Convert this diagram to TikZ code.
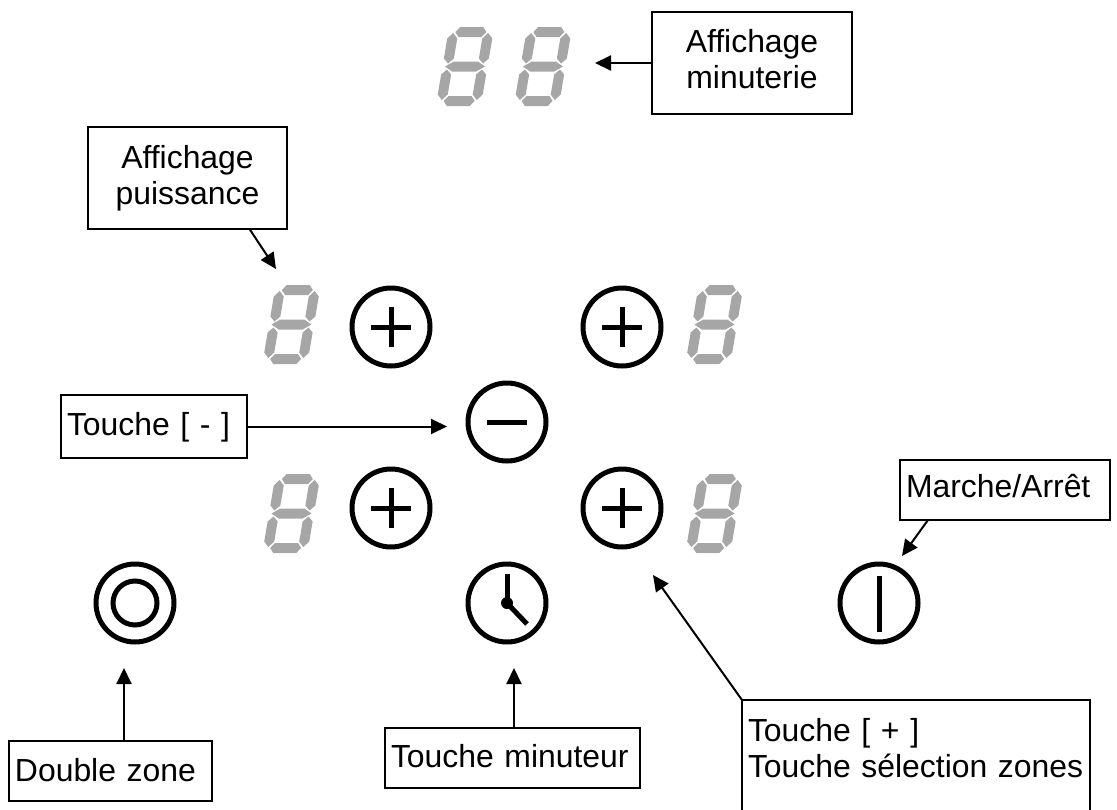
\documentclass[tikz,border=0pt]{standalone}
\usepackage{fontspec}
\setmainfont{Liberation Sans}
\usetikzlibrary{arrows.meta}
\definecolor{seggray}{HTML}{A6A6A6}
% horizontal segment: centre height, half length of the flat side, half length to the tip
\newcommand{\hseg}[3]{\fill[seggray] (-#3,#1) -- (-#2,#1-5) -- (#2,#1-5) -- (#3,#1) -- (#2,#1+5) -- (-#2,#1+5) -- cycle;}
% vertical segment: x, top tip, top shoulder, bottom shoulder, bottom tip
\newcommand{\vseg}[5]{\fill[seggray] (#1,#2) -- (#1+5,#3) -- (#1+5,#4) -- (#1,#5) -- (#1-5,#4) -- (#1-5,#3) -- cycle;}
\tikzset{
  x=1pt,y=-1pt,
  sevenseg/.pic={
    \begin{scope}[xslant=0.17]
      \hseg{-34.5}{11.5}{15.5}\hseg{0}{12}{20}\hseg{34.5}{11.5}{15.5}
      \vseg{-17.5}{-33.5}{-28}{-8}{-3}\vseg{17.5}{-33.5}{-28}{-8}{-3}
      \vseg{-17.5}{3}{8}{28}{33.5}\vseg{17.5}{3}{8}{28}{33.5}
    \end{scope}
  },
  labelbox/.style={draw,line width=2pt,anchor=north west,inner xsep=6pt,inner ysep=0pt,outer sep=0pt,
    font=\fontsize{31.9}{36.5}\selectfont},
  keyring/.style={circle,draw,line width=5pt,minimum size=78pt,inner sep=0pt,outer sep=0pt},
  keymark/.style={line width=5pt},
  pointer/.style={line width=2pt,-{Triangle[length=16pt,width=15pt]}}
}
\begin{document}
\begin{tikzpicture}
\useasboundingbox (0,0) rectangle (1117,809);
% displays
\pic at (465,66.5) {sevenseg};
\pic at (543,66.5) {sevenseg};
\pic at (291.5,324.5) {sevenseg};
\pic at (714.5,324.5) {sevenseg};
\pic at (291.5,513.5) {sevenseg};
\pic at (714.5,513.5) {sevenseg};
% keys
\node[keyring] (ptl) at (391,327) {};
\node[keyring] (ptr) at (622,327) {};
\node[keyring] (pbl) at (391,508) {};
\node[keyring] (pbr) at (622,508) {};
\foreach \k in {ptl,ptr,pbl,pbr}{
  \draw[keymark] ([xshift=-20pt]\k.center) -- ([xshift=20pt]\k.center);
  \draw[keymark] ([yshift=-20pt]\k.center) -- ([yshift=20pt]\k.center);
}
\node[keyring] (minus) at (507,422) {};
\draw[keymark] ([xshift=-20pt]minus.center) -- ([xshift=20pt]minus.center);
\node[keyring] (clock) at (507,603) {};
\draw[keymark] (clock.center) -- ++(0,-29);
\draw[keymark] (clock.center) -- ++(20,21);
\fill (clock.center) circle (6pt);
\node[keyring] (dzone) at (135,603) {};
\node[circle,draw,line width=5pt,minimum size=44pt,inner sep=0pt,outer sep=0pt] (dzonein) at (135,603) {};
\node[keyring] (power) at (879,603) {};
\draw[keymark] ([yshift=-29pt]power.center) -- ([yshift=27pt]power.center);
% labels
\node[labelbox,minimum width=200pt,text width=188pt,align=center,text height=40pt,text depth=62pt] (bmin) at (652,12) {Affichage\\minuterie};
\node[labelbox,minimum width=199pt,text width=187pt,align=center,text height=41pt,text depth=61pt] (bpui) at (88,127) {Affichage\\puissance};
\node[labelbox,minimum width=186pt,text width=174pt,align=left,text height=40pt,text depth=23pt] (bmoins) at (61,395) {Touche [ - ]};
\node[labelbox,minimum width=210pt,text width=198pt,align=left,text height=37pt,text depth=23pt] (bmarche) at (900,460) {Marche/Arrêt};
\node[labelbox,minimum width=203pt,text width=191pt,align=left,text height=40pt,text depth=20pt] (bdouble) at (9,741) {Double zone};
\node[labelbox,minimum width=255pt,text width=243pt,align=left,text height=39pt,text depth=21pt] (bminut) at (385,728) {Touche minuteur};
\node[labelbox,minimum width=348pt,text width=336pt,align=left,text height=41pt,text depth=74pt] (bplus) at (742,700) {Touche [ + ]\\\mbox{Touche sélection zones}};
% pointer ends
\coordinate (tmin) at (595,63);
\coordinate (tpui) at (276,269);
\coordinate (tmoins) at (447,426);
\coordinate (tmarche) at (902,556);
\coordinate (tdouble) at (124,668);
\coordinate (tminut) at (514,668);
\coordinate (tplus) at (653,575);
\draw[pointer] (bmin.west) -- (bmin.west -| tmin);
\draw[pointer] ([xshift=62pt]bpui.south) -- (tpui);
\draw[pointer] (bmoins.east) -- (bmoins.east -| tmoins);
\draw[pointer] ([xshift=28pt]bmarche.south west) -- (tmarche);
\draw[pointer] (bdouble.north -| tdouble) -- (tdouble);
\draw[pointer] (bminut.north -| tminut) -- (tminut);
\draw[pointer] (bplus.north west) -- (tplus);
\end{tikzpicture}
\end{document}
